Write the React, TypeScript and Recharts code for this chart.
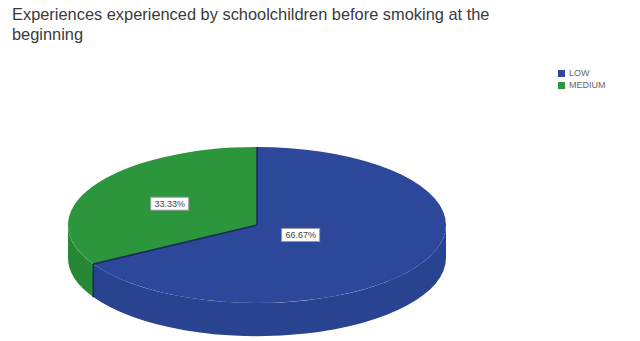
import React from 'react';
import { PieChart, Pie, Cell, Legend } from 'recharts';

const categories = ['LOW', 'MEDIUM'];
const values = [66.67, 33.33];
const topColors = ['#2d489a', '#2b963c'];
const wallColors = ['#2a4390', '#268834'];

const data = categories.map((name, i) => ({ name, value: values[i] }));

const K = 0.413; // vertical squash of the tilted ellipse
const DEPTH = 0.175; // wall depth relative to radius

function pt(cx: number, cy: number, rx: number, ry: number, deg: number, dy = 0) {
  const r = (deg * Math.PI) / 180;
  return [cx + rx * Math.cos(r), cy - ry * Math.sin(r) + dy];
}

const Slice3D = (props: any) => {
  const { cx, cy, outerRadius, startAngle, endAngle, index } = props;
  const rx = outerRadius;
  const ry = outerRadius * K;
  const depth = outerRadius * DEPTH;
  const i = typeof index === 'number' ? index : categories.indexOf(props.name ?? props.payload?.name);
  const top = topColors[i] ?? props.fill;
  const wall = wallColors[i] ?? props.fill;
  const lo = Math.min(startAngle, endAngle);
  const hi = Math.max(startAngle, endAngle);
  const walls: string[] = [];
  for (let k = -2; k <= 1; k++) {
    const a = Math.max(lo, k * 360 + 180);
    const b = Math.min(hi, k * 360 + 360);
    if (b > a) {
      const [ax, ay] = pt(cx, cy, rx, ry, a);
      const [bx, by] = pt(cx, cy, rx, ry, b);
      walls.push(
        `M${bx},${by} A${rx},${ry} 0 0 1 ${ax},${ay} L${ax},${ay + depth} A${rx},${ry} 0 0 0 ${bx},${by + depth} Z`
      );
    }
  }
  const [sx, sy] = pt(cx, cy, rx, ry, startAngle);
  const [ex, ey] = pt(cx, cy, rx, ry, endAngle);
  const large = Math.abs(endAngle - startAngle) > 180 ? 1 : 0;
  const sweep = startAngle > endAngle ? 1 : 0;
  const topPath = `M${cx},${cy} L${sx},${sy} A${rx},${ry} 0 ${large} ${sweep} ${ex},${ey} Z`;
  const seams: React.ReactNode[] = [];
  [startAngle, endAngle].forEach((ang, j) => {
    const s = Math.sin((ang * Math.PI) / 180);
    if (s < -0.01) {
      const [x, y] = pt(cx, cy, rx, ry, ang);
      seams.push(<line key={'s' + j} x1={x} y1={y} x2={x} y2={y + depth} stroke="#1c2c5e" strokeWidth={1.5} />);
    }
  });
  return (
    <g>
      {walls.map((d, j) => (
        <path key={j} d={d} fill={wall} stroke="none" />
      ))}
      {seams}
      <path d={topPath} fill={top} stroke="none" />
      <line x1={cx} y1={cy} x2={sx} y2={sy} stroke="#1c2c5e" strokeWidth={1.5} />
      <line x1={cx} y1={cy} x2={ex} y2={ey} stroke="#1c2c5e" strokeWidth={1.5} />
    </g>
  );
};

const renderLabel = (props: any) => {
  const { cx, cy, outerRadius, midAngle, percent } = props;
  const f = 0.8 - 0.8 * percent;
  const [x, y] = pt(cx, cy, outerRadius * f, outerRadius * K * f, midAngle);
  const txt = (percent * 100).toFixed(2) + '%';
  return (
    <g>
      <rect x={x - 19} y={y - 7} width={38} height={13} fill="#ffffff" stroke="#9a9a9a" strokeWidth={1} />
      <text x={x} y={y + 3} textAnchor="middle" fontSize={9} fill="#444" fontFamily="Liberation Sans, Arial, sans-serif">
        {txt}
      </text>
    </g>
  );
};

export default function App() {
  return (
    <div style={{ position: 'absolute', left: 0, top: 0, width: 640, height: 341, background: '#fff' }}>
      <div
        style={{
          position: 'absolute',
          left: 12,
          top: 4,
          width: 505,
          fontFamily: 'Liberation Sans, Arial, sans-serif',
          fontSize: 16.4,
          lineHeight: '20px',
          color: '#3a3a3a',
        }}
      >
        Experiences experienced by schoolchildren before smoking at the beginning
      </div>
      <PieChart width={640} height={341} margin={{ top: 0, right: 0, bottom: 0, left: 0 }}>
        <Pie
          data={data}
          dataKey="value"
          nameKey="name"
          cx={257}
          cy={225}
          outerRadius={189}
          startAngle={90}
          endAngle={-270}
          isAnimationActive={false}
          shape={Slice3D}
          activeShape={Slice3D}
          label={renderLabel}
          labelLine={false}
        >
          {data.map((d, i) => (
            <Cell key={d.name} fill={topColors[i]} />
          ))}
        </Pie>
        <Legend
          layout="vertical"
          verticalAlign="top"
          align="right"
          iconType="square"
          iconSize={7}
          formatter={(v: string) => <span style={{ color: '#666', fontSize: 9 }}>{v}</span>}
          wrapperStyle={{
            top: 67,
            left: 558,
            right: 'auto',
            width: 80,
            fontFamily: 'Liberation Sans, Arial, sans-serif',
            fontSize: 9,
            lineHeight: '12px',
          }}
        />
      </PieChart>
    </div>
  );
}
